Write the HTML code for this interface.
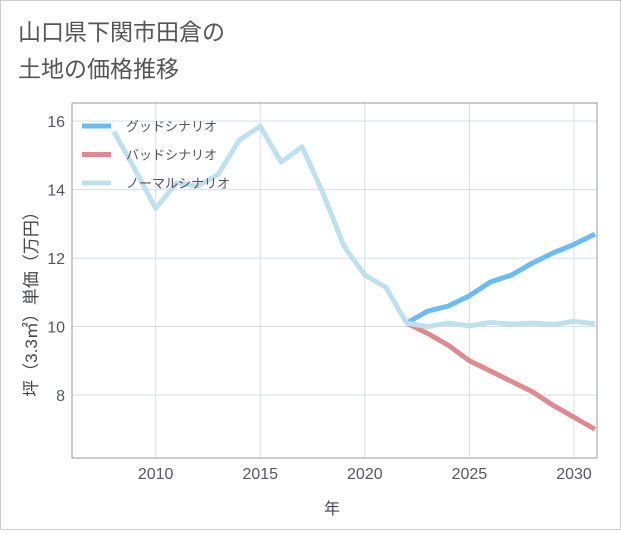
<!DOCTYPE html>
<html><head><meta charset="utf-8"><style>
body{margin:0;background:#fff;font-family:"Liberation Sans","Noto Sans CJK JP",sans-serif;}
svg text{font-family:"Liberation Sans","Noto Sans CJK JP",sans-serif;}
</style></head><body>
<svg id="c" width="621" height="530" xmlns="http://www.w3.org/2000/svg">
<rect x="0.5" y="0.5" width="620" height="529" fill="#fff" stroke="#ccc"/>
<text x="18" y="40" font-size="23" fill="#555">山口県下関市田倉の</text>
<text x="18" y="77" font-size="23" fill="#555">土地の価格推移</text>
<g id="grid"></g>
<rect x="72" y="103" width="525" height="355" fill="none" stroke="#999"/>
<g id="series"></g>
<g id="legend"></g>
<text x="332" y="514" font-size="16" fill="#445" text-anchor="middle">年</text>
<text transform="translate(37,300) rotate(-90)" font-size="17" fill="#445" text-anchor="middle">坪（3.3㎡）単価（万円）</text>
</svg>
<script>
const years=[2008,2009,2010,2011,2012,2013,2014,2015,2016,2017,2018,2019,2020,2021,2022,2023,2024,2025,2026,2027,2028,2029,2030,2031];
const normal=[15.7,14.6,13.45,14.2,14.1,14.45,15.45,15.85,14.8,15.25,13.9,12.35,11.5,11.15,10.1,10.0,10.1,10.02,10.12,10.07,10.1,10.06,10.15,10.08];
const goodYears=[2022,2023,2024,2025,2026,2027,2028,2029,2030,2031];
const good=[10.1,10.45,10.6,10.9,11.3,11.5,11.85,12.15,12.4,12.7];
const bad=[10.1,9.8,9.45,9.0,8.7,8.4,8.1,7.7,7.35,7.0];
const xTicks=[2010,2015,2020,2025,2030];
const yTicks=[8,10,12,14,16];
const legendLabels=["グッドシナリオ","バッドシナリオ","ノーマルシナリオ"];
const NS="http://www.w3.org/2000/svg";
function xs(v){return 72+(v-2006)*(525/25.1);}
function ys(v){return 458-(v-6.16)*(355/10.37);}
function mk(t,a,p){const e=document.createElementNS(NS,t);for(const k in a)e.setAttribute(k,a[k]);p.appendChild(e);return e;}
const grid=document.getElementById('grid');
xTicks.forEach(t=>{const l=mk('line',{x1:xs(t),x2:xs(t),y1:103,y2:458,stroke:'#d5dfe8'},grid);


const tx=mk('text',{x:xs(t),y:479,'font-size':16,fill:'#556','text-anchor':'middle'},grid);tx.textContent=t;

});
yTicks.forEach(t=>{const l=mk('line',{x1:72,x2:597,y1:ys(t),y2:ys(t),stroke:'#d5dfe8'},grid);


const tx=mk('text',{x:65,y:ys(t)+6,'font-size':16,fill:'#556','text-anchor':'end'},grid);tx.textContent=t;

});
const sg=document.getElementById('series');
function line(xv,yv,col,name){const p=mk('polyline',{points:xv.map((x,i)=>xs(x)+','+ys(yv[i])).join(' '),fill:'none',stroke:col,'stroke-width':5,'stroke-linejoin':'round'},sg);

}
line(goodYears,bad,'#de8a90','bad-scenario-line');
line(goodYears,good,'#6bbcf2','good-scenario-line');
line(years,normal,'#bfe0ef','normal-scenario-line');
const lg=document.getElementById('legend');
const cols=['#6bbcf2','#de8a90','#bfe0ef'];
legendLabels.forEach((s,i)=>{const y=126+i*28.5;
const l=mk('line',{x1:82,x2:111,y1:y,y2:y,stroke:cols[i],'stroke-width':5},lg);


const t=mk('text',{x:126,y:y+5,'font-size':13,fill:'#555'},lg);t.textContent=s;

});
</script>
</body></html>
